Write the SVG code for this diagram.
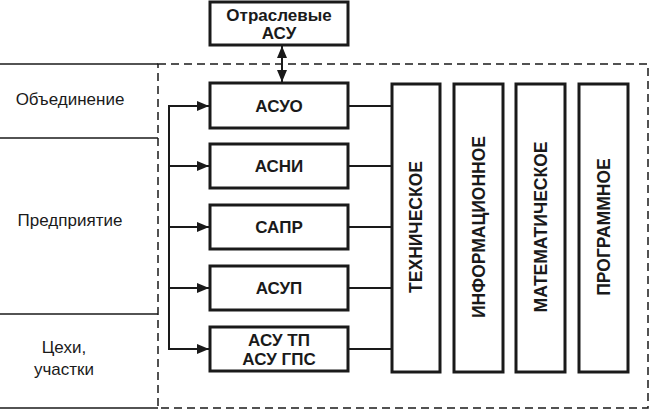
<svg xmlns="http://www.w3.org/2000/svg" width="650" height="411" viewBox="0 0 650 411">
<defs>
<style>
.box{fill:#fff;stroke:#1a1a1a;stroke-width:3}
.bl{font-family:"Liberation Sans",Arial,sans-serif;font-weight:bold;font-size:17px;fill:#1a1a1a;text-anchor:middle}
.vl{font-family:"Liberation Sans",Arial,sans-serif;font-weight:bold;font-size:17.5px;fill:#1a1a1a;text-anchor:middle}
.ll{font-family:"Liberation Sans",Arial,sans-serif;font-size:17px;fill:#1a1a1a;text-anchor:middle}
.ln{stroke:#1a1a1a;stroke-width:2;fill:none}
.thin{stroke:#1a1a1a;stroke-width:1.5;fill:none}
.dash{stroke:#1a1a1a;stroke-width:1.5;fill:none;stroke-dasharray:8 5}
</style>
<marker id="ah" viewBox="0 0 12 10" refX="12" refY="5" markerWidth="12" markerHeight="10" markerUnits="userSpaceOnUse" orient="auto-start-reverse">
<path d="M0,0 L12,5 L0,10 Z" fill="#1a1a1a"/>
</marker>
</defs>
<rect width="650" height="411" fill="#fff"/>

<g id="frame">
<line class="thin" x1="0" y1="64" x2="158" y2="64"/>
<line class="thin" x1="0" y1="138" x2="158" y2="138"/>
<line class="thin" x1="0" y1="314" x2="158" y2="314"/>
<line class="thin" x1="0" y1="408" x2="158" y2="408"/>
<path class="dash" d="M158,64 H648 V408 H158 Z"/>
</g>

<g id="levels">
<text class="ll" x="70" y="105">Объединение</text>
<text class="ll" x="70" y="226">Предприятие</text>
<text class="ll" x="64" y="353">Цехи,</text>
<text class="ll" x="64" y="375">участки</text>
</g>

<g id="connectors">
<line class="ln" x1="282" y1="46" x2="282" y2="82" marker-start="url(#ah)" marker-end="url(#ah)"/>
<line class="ln" x1="169" y1="106" x2="169" y2="349"/>
<line class="ln" x1="168" y1="106" x2="209" y2="106" marker-end="url(#ah)"/>
<line class="ln" x1="168" y1="166" x2="209" y2="166" marker-end="url(#ah)"/>
<line class="ln" x1="168" y1="227" x2="209" y2="227" marker-end="url(#ah)"/>
<line class="ln" x1="168" y1="288" x2="209" y2="288" marker-end="url(#ah)"/>
<line class="ln" x1="168" y1="349" x2="209" y2="349" marker-end="url(#ah)"/>
<line class="ln" x1="348" y1="106" x2="392" y2="106"/>
<line class="ln" x1="348" y1="166" x2="392" y2="166"/>
<line class="ln" x1="348" y1="227" x2="392" y2="227"/>
<line class="ln" x1="348" y1="288" x2="392" y2="288"/>
<line class="ln" x1="348" y1="349" x2="392" y2="349"/>
</g>

<g id="otraslevye">
<rect class="box" x="210" y="2" width="138" height="43"/>
<text class="bl" x="279" y="21">Отраслевые</text>
<text class="bl" x="279" y="39">АСУ</text>
</g>
<g id="asuo">
<rect class="box" x="210" y="83" width="138" height="45"/>
<text class="bl" x="279" y="112">АСУО</text>
</g>
<g id="asni">
<rect class="box" x="210" y="144" width="138" height="44"/>
<text class="bl" x="279" y="172">АСНИ</text>
</g>
<g id="sapr">
<rect class="box" x="210" y="205" width="138" height="44"/>
<text class="bl" x="279" y="233">САПР</text>
</g>
<g id="asup">
<rect class="box" x="210" y="266" width="138" height="44"/>
<text class="bl" x="279" y="294">АСУП</text>
</g>
<g id="asutp">
<rect class="box" x="210" y="327" width="138" height="44"/>
<text class="bl" x="279" y="346">АСУ ТП</text>
<text class="bl" x="279" y="365">АСУ ГПС</text>
</g>

<g id="tech">
<rect class="box" x="392" y="84" width="48" height="288"/>
<text class="vl" transform="translate(422,227) rotate(-90)">ТЕХНИЧЕСКОЕ</text>
</g>
<g id="inform">
<rect class="box" x="454" y="84" width="49" height="288"/>
<text class="vl" transform="translate(485,227) rotate(-90)">ИНФОРМАЦИОННОЕ</text>
</g>
<g id="matem">
<rect class="box" x="516" y="84" width="49" height="288"/>
<text class="vl" transform="translate(547,227) rotate(-90)">МАТЕМАТИЧЕСКОЕ</text>
</g>
<g id="progr">
<rect class="box" x="579" y="84" width="49" height="288"/>
<text class="vl" transform="translate(610,227) rotate(-90)">ПРОГРАММНОЕ</text>
</g>
</svg>
